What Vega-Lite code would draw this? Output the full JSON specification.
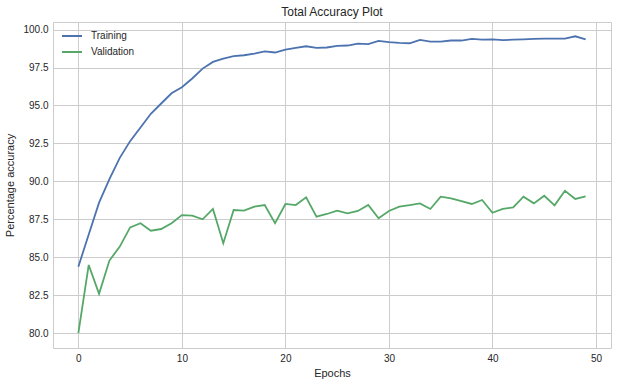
{
  "$schema": "https://vega.github.io/schema/vega-lite/v6.json",
  "width": 558,
  "height": 326,
  "autosize": {"type": "none"},
  "padding": {"left": 53, "top": 22, "right": 7, "bottom": 38},
  "background": "white",
  "title": {"text": "Total Accuracy Plot", "fontSize": 12, "font": "Liberation Sans", "fontWeight": "normal", "color": "#262626", "offset": 3, "anchor": "middle"},
  "data": {"values": [
    {"epoch": 0, "Training": 84.38, "Validation": 80.0},
    {"epoch": 1, "Training": 86.5, "Validation": 84.49},
    {"epoch": 2, "Training": 88.6, "Validation": 82.59},
    {"epoch": 3, "Training": 90.15, "Validation": 84.78},
    {"epoch": 4, "Training": 91.55, "Validation": 85.7},
    {"epoch": 5, "Training": 92.65, "Validation": 86.97},
    {"epoch": 6, "Training": 93.55, "Validation": 87.24},
    {"epoch": 7, "Training": 94.45, "Validation": 86.75},
    {"epoch": 8, "Training": 95.13, "Validation": 86.86},
    {"epoch": 9, "Training": 95.8, "Validation": 87.24},
    {"epoch": 10, "Training": 96.2, "Validation": 87.78},
    {"epoch": 11, "Training": 96.78, "Validation": 87.74},
    {"epoch": 12, "Training": 97.43, "Validation": 87.5},
    {"epoch": 13, "Training": 97.87, "Validation": 88.18},
    {"epoch": 14, "Training": 98.09, "Validation": 85.92},
    {"epoch": 15, "Training": 98.25, "Validation": 88.11},
    {"epoch": 16, "Training": 98.31, "Validation": 88.07},
    {"epoch": 17, "Training": 98.42, "Validation": 88.33},
    {"epoch": 18, "Training": 98.57, "Validation": 88.44},
    {"epoch": 19, "Training": 98.49, "Validation": 87.24},
    {"epoch": 20, "Training": 98.68, "Validation": 88.51},
    {"epoch": 21, "Training": 98.79, "Validation": 88.44},
    {"epoch": 22, "Training": 98.9, "Validation": 88.95},
    {"epoch": 23, "Training": 98.8, "Validation": 87.67},
    {"epoch": 24, "Training": 98.82, "Validation": 87.85},
    {"epoch": 25, "Training": 98.93, "Validation": 88.07},
    {"epoch": 26, "Training": 98.95, "Validation": 87.89},
    {"epoch": 27, "Training": 99.08, "Validation": 88.05},
    {"epoch": 28, "Training": 99.04, "Validation": 88.44},
    {"epoch": 29, "Training": 99.25, "Validation": 87.57},
    {"epoch": 30, "Training": 99.17, "Validation": 88.05},
    {"epoch": 31, "Training": 99.12, "Validation": 88.33},
    {"epoch": 32, "Training": 99.1, "Validation": 88.44},
    {"epoch": 33, "Training": 99.32, "Validation": 88.55},
    {"epoch": 34, "Training": 99.21, "Validation": 88.18},
    {"epoch": 35, "Training": 99.21, "Validation": 88.99},
    {"epoch": 36, "Training": 99.28, "Validation": 88.88},
    {"epoch": 37, "Training": 99.28, "Validation": 88.7},
    {"epoch": 38, "Training": 99.39, "Validation": 88.51},
    {"epoch": 39, "Training": 99.34, "Validation": 88.77},
    {"epoch": 40, "Training": 99.36, "Validation": 87.93},
    {"epoch": 41, "Training": 99.3, "Validation": 88.18},
    {"epoch": 42, "Training": 99.34, "Validation": 88.29},
    {"epoch": 43, "Training": 99.36, "Validation": 88.99},
    {"epoch": 44, "Training": 99.39, "Validation": 88.55},
    {"epoch": 45, "Training": 99.41, "Validation": 89.05},
    {"epoch": 46, "Training": 99.41, "Validation": 88.42},
    {"epoch": 47, "Training": 99.41, "Validation": 89.38},
    {"epoch": 48, "Training": 99.56, "Validation": 88.84},
    {"epoch": 49, "Training": 99.36, "Validation": 89.01}
  ]},
  "transform": [{"fold": ["Training", "Validation"], "as": ["series", "acc"]}],
  "mark": {"type": "line", "strokeWidth": 1.8, "clip": true},
  "encoding": {
    "x": {"field": "epoch", "type": "quantitative",
      "scale": {"domain": [-2.45, 51.45], "nice": false, "zero": false},
      "axis": {"values": [0, 10, 20, 30, 40, 50], "title": "Epochs", "titlePadding": 4, "labelPadding": 5}},
    "y": {"field": "acc", "type": "quantitative",
      "scale": {"domain": [79.02, 100.5], "nice": false, "zero": false},
      "axis": {"values": [80, 82.5, 85, 87.5, 90, 92.5, 95, 97.5, 100], "format": ".1f", "title": "Percentage accuracy", "titlePadding": 7, "labelPadding": 5}},
    "color": {"field": "series", "type": "nominal",
      "scale": {"domain": ["Training", "Validation"], "range": ["#4C72B0", "#55A868"]},
      "legend": {"title": null, "orient": "none", "legendX": 8, "legendY": 3, "symbolType": "stroke", "symbolSize": 400, "symbolStrokeWidth": 2, "labelFontSize": 10, "labelFont": "Liberation Sans", "labelColor": "#262626", "rowPadding": -5, "labelOffset": 8}}
  },
  "config": {
    "view": {"stroke": "#cccccc", "strokeWidth": 1},
    "axis": {
      "domain": false, "ticks": false, "grid": true, "gridColor": "#cccccc", "gridWidth": 1, "gridOpacity": 1,
      "labelFont": "Liberation Sans", "labelFontSize": 10, "labelColor": "#262626",
      "titleFont": "Liberation Sans", "titleFontSize": 11, "titleFontWeight": "normal", "titleColor": "#262626"
    }
  }
}
